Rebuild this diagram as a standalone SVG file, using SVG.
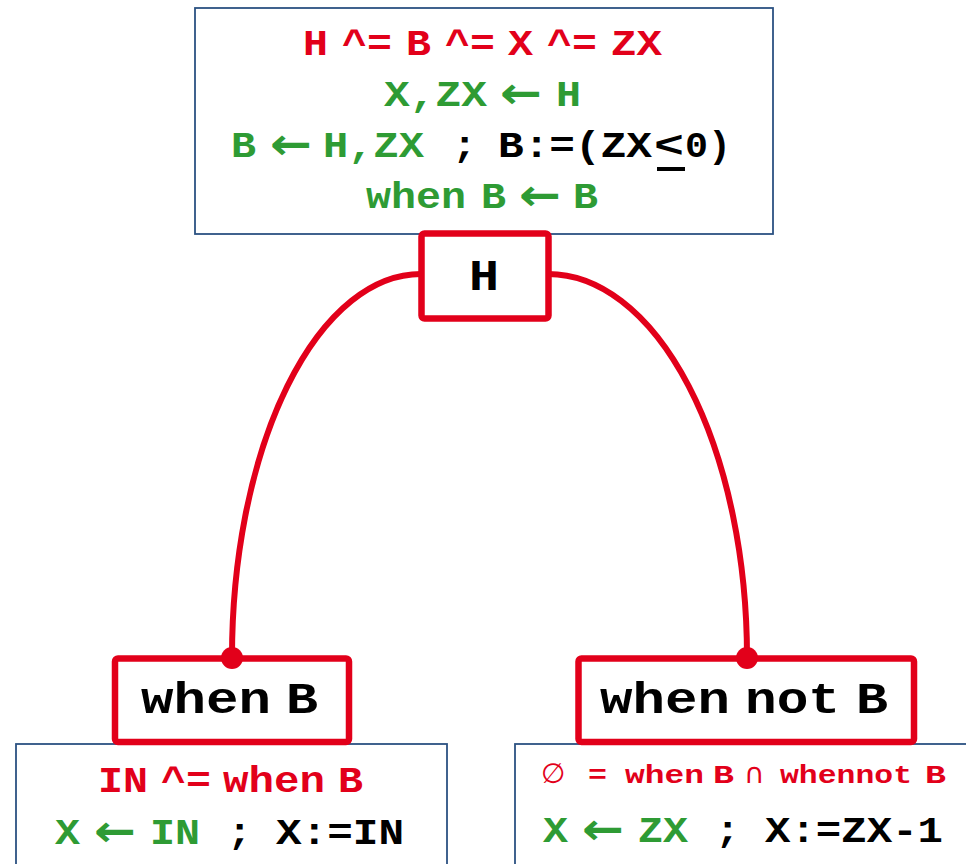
<svg xmlns="http://www.w3.org/2000/svg" width="966" height="864" viewBox="0 0 966 864">
<style>
text{font-family:"Liberation Mono","Courier New",monospace;font-weight:bold;font-size:37px}
.r{fill:#e2001a}.g{fill:#2e9b34}.k{fill:#000}
.a{font-family:"DejaVu Sans",sans-serif;font-size:44px;font-weight:bold;fill:#2e9b34}
.s{font-family:"DejaVu Sans",sans-serif;font-weight:normal;font-size:28px;fill:#e2001a}
.sm{font-size:26px}
.nl{font-size:45px;fill:#000}
.box{fill:#fff;stroke:#2c5282;stroke-width:1.8}
.node{fill:#fff;stroke:#e2001a;stroke-width:6.5}
.conn{fill:none;stroke:#e2001a;stroke-width:6}
.dot{fill:#e2001a}
</style>
<rect width="966" height="864" fill="#fff"/>
<g id="box-top">
<rect class="box" x="195" y="8" width="578" height="226"/>
<text class="r" x="303" y="55" textLength="25" lengthAdjust="spacingAndGlyphs">H</text>
<text class="r" x="342" y="55" textLength="50" lengthAdjust="spacingAndGlyphs">^=</text>
<text class="r" x="406" y="55" textLength="25" lengthAdjust="spacingAndGlyphs">B</text>
<text class="r" x="445" y="55" textLength="50" lengthAdjust="spacingAndGlyphs">^=</text>
<text class="r" x="508" y="55" textLength="25" lengthAdjust="spacingAndGlyphs">X</text>
<text class="r" x="547" y="55" textLength="50" lengthAdjust="spacingAndGlyphs">^=</text>
<text class="r" x="611" y="55" textLength="51" lengthAdjust="spacingAndGlyphs">ZX</text>
<text class="g" x="384" y="106" textLength="103" lengthAdjust="spacingAndGlyphs">X,ZX</text>
<text class="a" x="500" y="108" textLength="42" lengthAdjust="spacingAndGlyphs">←</text>
<text class="g" x="556" y="106" textLength="25" lengthAdjust="spacingAndGlyphs">H</text>
<text class="g" x="231" y="157" textLength="25" lengthAdjust="spacingAndGlyphs">B</text>
<text class="a" x="270" y="159" textLength="42" lengthAdjust="spacingAndGlyphs">←</text>
<text class="g" x="323" y="157" textLength="101" lengthAdjust="spacingAndGlyphs">H,ZX</text>
<text class="k" x="452" y="157" textLength="25" lengthAdjust="spacingAndGlyphs">;</text>
<text class="k" x="498" y="157" textLength="154" lengthAdjust="spacingAndGlyphs">B:=(ZX</text>
<text class="k" x="654" y="157" textLength="30" lengthAdjust="spacingAndGlyphs">&lt;</text>
<text class="k" x="685" y="157" textLength="46" lengthAdjust="spacingAndGlyphs">0)</text>
<rect x="657" y="167" width="28" height="4" fill="#000"/>
<text class="g" x="366" y="208" textLength="100" lengthAdjust="spacingAndGlyphs">when</text>
<text class="g" x="481" y="208" textLength="25" lengthAdjust="spacingAndGlyphs">B</text>
<text class="a" x="519" y="210" textLength="42" lengthAdjust="spacingAndGlyphs">←</text>
<text class="g" x="573" y="208" textLength="25" lengthAdjust="spacingAndGlyphs">B</text>
</g>
<g id="box-left">
<rect class="box" x="16" y="744" width="431" height="130"/>
<text class="r" x="98" y="792" textLength="50" lengthAdjust="spacingAndGlyphs">IN</text>
<text class="r" x="161" y="792" textLength="50" lengthAdjust="spacingAndGlyphs">^=</text>
<text class="r" x="223" y="792" textLength="102" lengthAdjust="spacingAndGlyphs">when</text>
<text class="r" x="338" y="792" textLength="25" lengthAdjust="spacingAndGlyphs">B</text>
<text class="g" x="55" y="844" textLength="25" lengthAdjust="spacingAndGlyphs">X</text>
<text class="a" x="94" y="846" textLength="42" lengthAdjust="spacingAndGlyphs">←</text>
<text class="g" x="150" y="844" textLength="50" lengthAdjust="spacingAndGlyphs">IN</text>
<text class="k" x="227" y="844" textLength="25" lengthAdjust="spacingAndGlyphs">;</text>
<text class="k" x="276" y="844" textLength="128" lengthAdjust="spacingAndGlyphs">X:=IN</text>
</g>
<g id="box-right">
<rect class="box" x="515" y="744" width="470" height="130"/>
<text class="s" x="541" y="783">∅</text>
<text class="r sm" x="588" y="783" textLength="19" lengthAdjust="spacingAndGlyphs">=</text>
<text class="r sm" x="625" y="783" textLength="79" lengthAdjust="spacingAndGlyphs">when</text>
<text class="r sm" x="713" y="783" textLength="21" lengthAdjust="spacingAndGlyphs">B</text>
<text class="s" x="744" y="783">∩</text>
<text class="r sm" x="780" y="783" textLength="132" lengthAdjust="spacingAndGlyphs">whennot</text>
<text class="r sm" x="925" y="783" textLength="21" lengthAdjust="spacingAndGlyphs">B</text>
<text class="g" x="543" y="842" textLength="25" lengthAdjust="spacingAndGlyphs">X</text>
<text class="a" x="582" y="844" textLength="42" lengthAdjust="spacingAndGlyphs">←</text>
<text class="g" x="638" y="842" textLength="50" lengthAdjust="spacingAndGlyphs">ZX</text>
<text class="k" x="715" y="842" textLength="25" lengthAdjust="spacingAndGlyphs">;</text>
<text class="k" x="765" y="842" textLength="178" lengthAdjust="spacingAndGlyphs">X:=ZX-1</text>
</g>
<g id="connectors">
<path class="conn" d="M421,274 A189,383 0 0 0 232,657"/>
<path class="conn" d="M548,274 A199,383 0 0 1 747,657"/>
</g>
<g id="node-H">
<rect class="node" x="421.5" y="233.5" width="127" height="85" rx="3"/>
<text class="nl" x="469" y="290" textLength="30" lengthAdjust="spacingAndGlyphs">H</text>
</g>
<g id="node-whenB">
<rect class="node" x="115" y="658.5" width="234" height="83.5" rx="3"/>
<circle class="dot" cx="232" cy="658" r="11"/>
<text class="nl" x="141" y="713" textLength="130" lengthAdjust="spacingAndGlyphs">when</text>
<text class="nl" x="286" y="713" textLength="32" lengthAdjust="spacingAndGlyphs">B</text>
</g>
<g id="node-whennotB">
<rect class="node" x="578.5" y="658.5" width="335.5" height="83.5" rx="3"/>
<circle class="dot" cx="747" cy="658" r="11"/>
<text class="nl" x="600" y="713" textLength="130" lengthAdjust="spacingAndGlyphs">when</text>
<text class="nl" x="745" y="713" textLength="95" lengthAdjust="spacingAndGlyphs">not</text>
<text class="nl" x="856" y="713" textLength="32" lengthAdjust="spacingAndGlyphs">B</text>
</g>
</svg>
